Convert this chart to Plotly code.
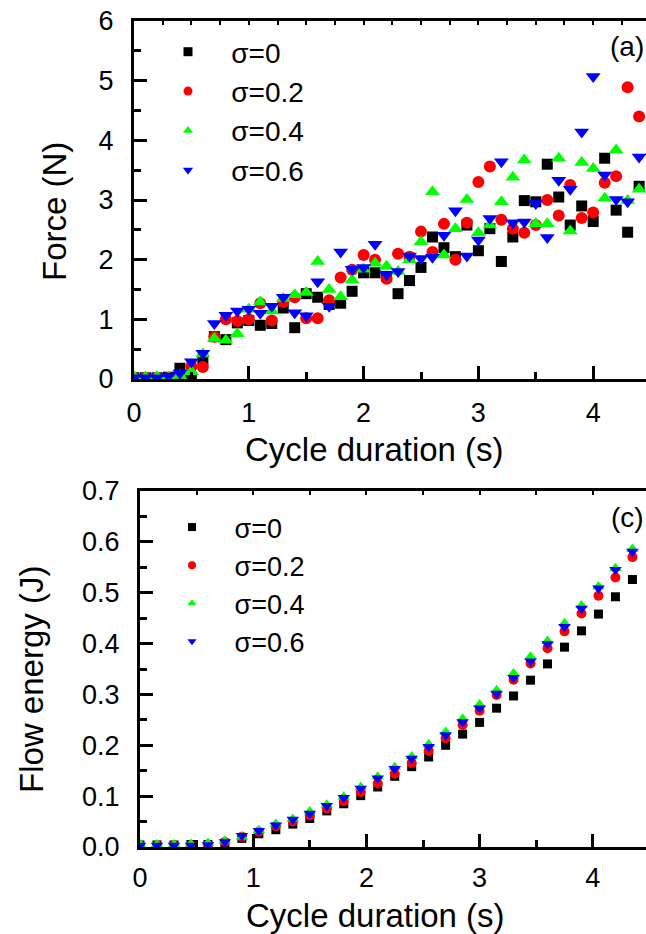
import plotly.graph_objects as go

W, H = 646, 934

# ---------------- data: panel (a) Force ----------------
t_force = [0.0, 0.1, 0.2, 0.3, 0.4, 0.5, 0.6, 0.7, 0.8, 0.9,
           1.0, 1.1, 1.2, 1.3, 1.4, 1.5, 1.6, 1.7, 1.8, 1.9,
           2.0, 2.1, 2.2, 2.3, 2.4, 2.5, 2.6, 2.7, 2.8, 2.9,
           3.0, 3.1, 3.2, 3.3, 3.4, 3.5, 3.6, 3.7, 3.8, 3.9,
           4.0, 4.1, 4.2, 4.3, 4.4]
force_s0 = [0.02, 0.02, 0.02, 0.03, 0.18, 0.03, 0.33, 0.71, 0.66, 0.94,
            0.98, 0.90, 0.93, 1.19, 0.86, 1.43, 1.37, 1.25, 1.27, 1.47,
            1.78, 1.78, 1.72, 1.43, 1.65, 1.87, 2.38, 2.20, 2.05, 2.58,
            2.15, 2.52, 1.97, 2.38, 2.99, 2.97, 3.60, 3.05, 2.58, 2.90,
            2.64, 3.70, 2.83, 2.46, 3.23]
force_s2 = [0.02, 0.02, 0.02, 0.02, 0.05, 0.21, 0.20, 0.71, 1.00, 0.97,
            1.00, 1.27, 0.98, 1.29, 1.37, 1.02, 1.02, 1.32, 1.70, 1.83,
            2.08, 2.00, 1.68, 2.10, 2.05, 2.47, 2.13, 2.60, 2.00, 2.62,
            3.30, 3.56, 2.67, 2.52, 2.45, 2.58, 3.00, 2.74, 3.25, 2.70,
            2.79, 3.29, 3.40, 4.89, 4.40]
force_s4 = [0.04, 0.03, 0.04, 0.03, 0.06, 0.12, 0.42, 0.68, 0.65, 0.76,
            1.17, 1.29, 1.14, 1.35, 1.41, 1.45, 1.97, 1.50, 1.38, 1.66,
            1.84, 1.94, 1.89, 1.80, 2.00, 2.30, 3.14, 2.08, 2.52, 3.01,
            2.45, 2.58, 2.97, 3.38, 3.67, 2.60, 2.60, 3.70, 2.48, 3.63,
            3.53, 3.03, 3.84, 2.99, 3.18]
force_s6 = [0.02, 0.02, 0.02, 0.05, 0.10, 0.29, 0.43, 0.93, 1.07, 1.14,
            1.17, 1.10, 1.22, 1.37, 1.11, 1.06, 1.63, 1.22, 2.13, 1.84,
            1.87, 2.26, 1.75, 1.80, 2.06, 2.02, 2.04, 2.41, 2.82, 2.06,
            2.33, 2.69, 3.64, 2.62, 2.63, 2.94, 2.37, 3.33, 3.18, 4.14,
            5.07, 3.42, 3.01, 2.97, 3.72]

# ---------------- data: panel (c) Flow energy ----------------
t_energy = [0.0, 0.15, 0.3, 0.45, 0.6, 0.75, 0.9, 1.05, 1.2, 1.35,
            1.5, 1.65, 1.8, 1.95, 2.1, 2.25, 2.4, 2.55, 2.7, 2.85,
            3.0, 3.15, 3.3, 3.45, 3.6, 3.75, 3.9, 4.05, 4.2, 4.35]
energy_s0 = [0.004, 0.004, 0.004, 0.005, 0.005, 0.006, 0.017, 0.026, 0.034, 0.045,
             0.056, 0.071, 0.085, 0.101, 0.118, 0.139, 0.158, 0.177, 0.200, 0.222,
             0.245, 0.273, 0.297, 0.328, 0.360, 0.393, 0.425, 0.458, 0.492, 0.526]
energy_s2 = [0.003, 0.003, 0.003, 0.003, 0.004, 0.010, 0.020, 0.030, 0.041, 0.050,
             0.062, 0.076, 0.090, 0.108, 0.125, 0.144, 0.165, 0.189, 0.214, 0.240,
             0.268, 0.299, 0.329, 0.361, 0.391, 0.424, 0.459, 0.494, 0.530, 0.570]
energy_s4 = [0.006, 0.005, 0.005, 0.006, 0.008, 0.012, 0.020, 0.033, 0.045, 0.055,
             0.070, 0.083, 0.099, 0.118, 0.138, 0.157, 0.178, 0.202, 0.226, 0.252,
             0.280, 0.308, 0.341, 0.374, 0.405, 0.440, 0.475, 0.512, 0.548, 0.586]
energy_s6 = [0.003, 0.003, 0.003, 0.003, 0.004, 0.010, 0.022, 0.032, 0.043, 0.054,
             0.066, 0.081, 0.097, 0.115, 0.135, 0.154, 0.174, 0.197, 0.220, 0.246,
             0.273, 0.302, 0.333, 0.365, 0.399, 0.433, 0.469, 0.509, 0.545, 0.581]

series_names = ["σ=0", "σ=0.2", "σ=0.4", "σ=0.6"]
colors = ["#000000", "#ff0000", "#00ff00", "#0000ff"]
symbols = ["square", "circle", "triangle-up", "triangle-down"]
size_a = [11, 12, 13, 13]
size_c = [9, 10, 11, 11]

FONT = "Liberation Sans, Arial, sans-serif"
TICK_SIZE = 27
TITLE_SIZE = 33


def X(px):
    return px / W


def Y(py):
    return 1 - py / H


fig = go.Figure()

force_sets = [force_s0, force_s2, force_s4, force_s6]
energy_sets = [energy_s0, energy_s2, energy_s4, energy_s6]

NB = "\u00a0\u00a0\u00a0"

for i in range(4):
    fig.add_trace(go.Scatter(
        x=t_force, y=force_sets[i], mode="markers", xaxis="x", yaxis="y",
        marker=dict(symbol=symbols[i], size=size_a[i], color=colors[i], line=dict(width=0)),
        showlegend=False, hoverinfo="skip"))
for i in range(4):
    fig.add_trace(go.Scatter(
        x=[None], y=[None], mode="markers", xaxis="x", yaxis="y",
        marker=dict(symbol=symbols[i], size=9, color=colors[i], line=dict(width=0)),
        name=NB + series_names[i], legend="legend", showlegend=True))

for i in range(4):
    fig.add_trace(go.Scatter(
        x=t_energy, y=energy_sets[i], mode="markers", xaxis="x2", yaxis="y2",
        marker=dict(symbol=symbols[i], size=size_c[i], color=colors[i], line=dict(width=0)),
        showlegend=False, hoverinfo="skip"))
for i in range(4):
    fig.add_trace(go.Scatter(
        x=[None], y=[None], mode="markers", xaxis="x2", yaxis="y2",
        marker=dict(symbol=symbols[i], size=8, color=colors[i], line=dict(width=0)),
        name=NB + series_names[i], legend="legend2", showlegend=True))

# empty traces to activate the top (mirror) axes
fig.add_trace(go.Scatter(x=[], y=[], xaxis="x3", yaxis="y", showlegend=False, hoverinfo="skip"))
fig.add_trace(go.Scatter(x=[], y=[], xaxis="x4", yaxis="y2", showlegend=False, hoverinfo="skip"))

tickfont = dict(family=FONT, size=TICK_SIZE, color="black")


def x_axis_style(standoff):
    return dict(showline=True, linewidth=3, linecolor="black", ticks="inside",
                tickwidth=3, tickcolor="black", ticklen=13, showgrid=False,
                zeroline=False, tickfont=tickfont, dtick=1, tick0=0,
                ticklabelstandoff=standoff, automargin=False,
                minor=dict(ticks="inside", dtick=0.5, ticklen=7, tickwidth=3,
                           tickcolor="black", showgrid=False))


ya_top, yb_top = 21, 379
ya_bot, yb_bot = 491, 847
xl_top, xl_bot = 134, 140

layout = dict(
    template="none",
    width=W, height=H, margin=dict(l=0, r=0, t=0, b=0, pad=0),
    paper_bgcolor="white", plot_bgcolor="white",
    font=dict(family=FONT, color="black"),
    xaxis=dict(domain=[X(xl_top), 1], anchor="y", range=[0, 4.46], **x_axis_style(8)),
    yaxis=dict(domain=[Y(yb_top), Y(ya_top)], anchor="x", range=[0, 6],
               showline=True, linewidth=3, linecolor="black", ticks="inside",
               tickwidth=3, tickcolor="black", ticklen=13, showgrid=False,
               zeroline=False, tickfont=tickfont, dtick=1, tick0=0,
               ticklabelstandoff=12, automargin=False,
               minor=dict(ticks="inside", dtick=0.5, ticklen=7, tickwidth=3,
                          tickcolor="black", showgrid=False)),
    xaxis3=dict(overlaying="x", anchor="y", side="top", range=[0, 4.46],
                showline=True, linewidth=3, linecolor="black", ticks="inside",
                tickwidth=2, tickcolor="black", ticklen=4, dtick=0.25, tick0=0,
                showticklabels=False, showgrid=False, zeroline=False, automargin=False),
    xaxis2=dict(domain=[X(xl_bot), 1], anchor="y2", range=[0, 4.47], **x_axis_style(5)),
    yaxis2=dict(domain=[Y(yb_bot), Y(ya_bot)], anchor="x2", range=[0, 0.7],
                showline=True, linewidth=3, linecolor="black", ticks="inside",
                tickwidth=3, tickcolor="black", ticklen=13, showgrid=False,
                zeroline=False, tickfont=tickfont, dtick=0.1, tick0=0,
                tickformat=".1f", ticklabelstandoff=12, automargin=False,
                minor=dict(ticks="inside", dtick=0.05, ticklen=7, tickwidth=3,
                           tickcolor="black", showgrid=False)),
    xaxis4=dict(overlaying="x2", anchor="y2", side="top", range=[0, 4.47],
                showline=True, linewidth=3, linecolor="black", ticks="inside",
                tickwidth=2, tickcolor="black", ticklen=4, dtick=0.5, tick0=0,
                showticklabels=False, showgrid=False, zeroline=False, automargin=False),
    legend=dict(x=X(168), y=Y(27), xanchor="left", yanchor="top",
                bgcolor="rgba(0,0,0,0)", borderwidth=0,
                font=dict(family=FONT, size=28, color="black"),
                itemsizing="trace", tracegroupgap=0),
    legend2=dict(x=X(172), y=Y(503), xanchor="left", yanchor="top",
                 bgcolor="rgba(0,0,0,0)", borderwidth=0,
                 font=dict(family=FONT, size=27, color="black"),
                 itemsizing="trace", tracegroupgap=0),
    showlegend=True,
    annotations=[
        dict(text="Cycle duration (s)", x=X(374), y=Y(449), xref="paper", yref="paper",
             showarrow=False, xanchor="center", yanchor="middle",
             font=dict(family=FONT, size=TITLE_SIZE, color="black")),
        dict(text="Cycle duration (s)", x=X(376), y=Y(915), xref="paper", yref="paper",
             showarrow=False, xanchor="center", yanchor="middle",
             font=dict(family=FONT, size=TITLE_SIZE, color="black")),
        dict(text="Force (N)", x=X(55), y=Y(212), xref="paper", yref="paper",
             showarrow=False, xanchor="center", yanchor="middle", textangle=-90,
             font=dict(family=FONT, size=TITLE_SIZE, color="black")),
        dict(text="Flow energy (J)", x=X(31), y=Y(680), xref="paper", yref="paper",
             showarrow=False, xanchor="center", yanchor="middle", textangle=-90,
             font=dict(family=FONT, size=TITLE_SIZE, color="black")),
        dict(text="(a)", x=X(646), y=Y(46), xref="paper", yref="paper",
             showarrow=False, xanchor="right", yanchor="middle",
             font=dict(family=FONT, size=28, color="black")),
        dict(text="(c)", x=X(646), y=Y(517), xref="paper", yref="paper",
             showarrow=False, xanchor="right", yanchor="middle",
             font=dict(family=FONT, size=28, color="black")),
    ],
)

fig.update_layout(**layout)
fig.write_html("out.html", config={"displayModeBar": False},
               post_script="document.body.style.margin='0';")
